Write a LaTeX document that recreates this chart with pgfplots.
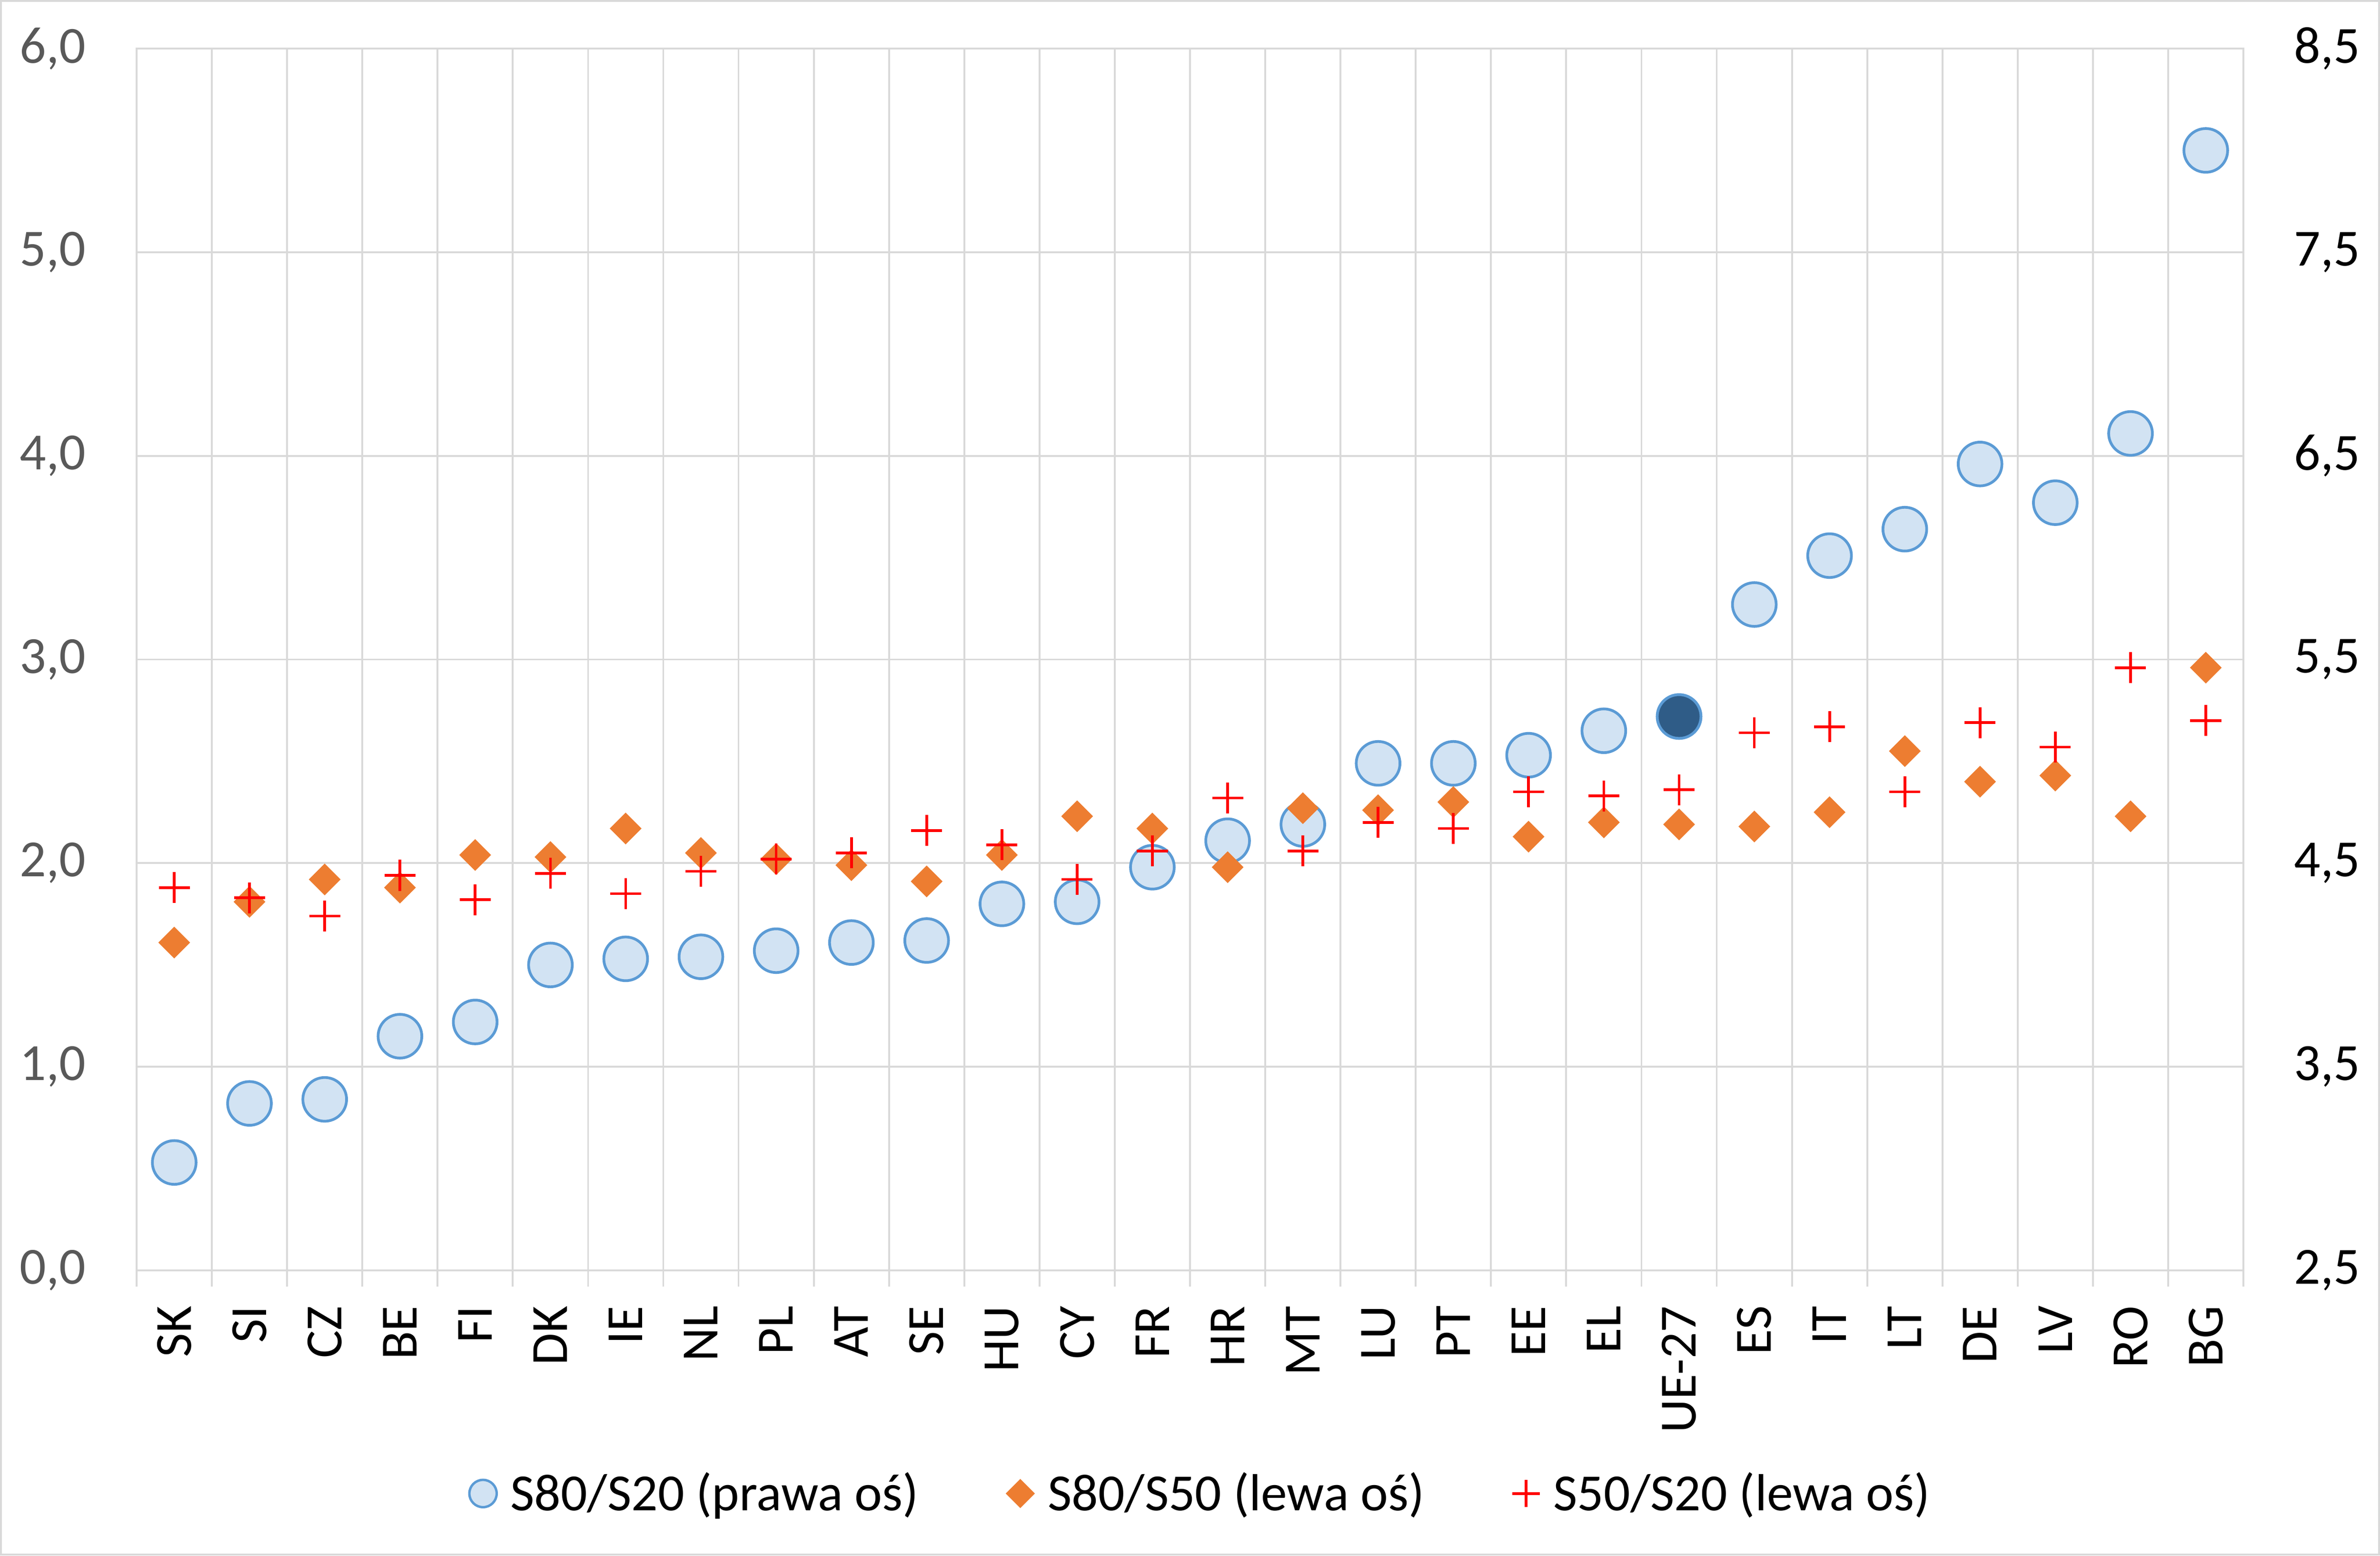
\documentclass[border=0pt]{standalone}
\usepackage{pgfplots}
\pgfplotsset{compat=1.18}
\usepackage{pgfplotstable}
\usepackage{fontspec}
\setmainfont{Carlito}

\definecolor{gridgray}{HTML}{D9D9D9}
\definecolor{ticklabelgray}{HTML}{595959}
\definecolor{circfill}{HTML}{D2E3F3}
\definecolor{circline}{HTML}{5B9BD5}
\definecolor{eublue}{HTML}{2F5C87}
\definecolor{diamondorange}{HTML}{ED7D31}
\definecolor{plusred}{HTML}{FF0000}

\newcommand{\chartfont}{\fontsize{17.2bp}{21bp}\selectfont}

% x = position of the country, s8020 on the right axis, the other two on the left one
\pgfplotstableread{
x  s8020 s8050 s5020
0  3.03  1.61  1.88
1  3.32  1.81  1.83
2  3.34  1.92  1.74
3  3.65  1.88  1.94
4  3.72  2.04  1.82
5  4.00  2.03  1.95
6  4.03  2.17  1.85
7  4.04  2.05  1.96
8  4.07  2.02  2.02
9  4.11  1.99  2.05
10 4.12  1.91  2.16
11 4.30  2.04  2.09
12 4.31  2.23  1.92
13 4.48  2.17  2.06
14 4.61  1.98  2.32
15 4.69  2.27  2.06
16 4.99  2.26  2.20
17 4.99  2.30  2.17
18 5.03  2.13  2.35
19 5.15  2.20  2.33
20 5.22  2.19  2.36
21 5.77  2.18  2.64
22 6.01  2.25  2.67
23 6.14  2.55  2.35
24 6.46  2.40  2.69
25 6.27  2.43  2.57
26 6.61  2.23  2.96
27 8.00  2.96  2.70
}\data

\pgfplotsset{
  base/.style={
    at={(45bp,94bp)}, anchor=south west,
    width=694bp, height=402.5bp, scale only axis,
    xmin=-0.5, xmax=27.5,
    tick label style={font=\chartfont},
    /pgf/number format/use comma,
    /pgf/number format/fixed,
    /pgf/number format/fixed zerofill,
    /pgf/number format/precision=1,
    /pgf/number format/assume math mode=true,
    scaled ticks=false,
    major tick length=0pt,
  },
}

\begin{document}
\begin{tikzpicture}
\useasboundingbox (0,0) rectangle (784bp,512.5bp);
\draw[gridgray, line width=0.65bp] (0.33bp,0.33bp) rectangle (783.67bp,512.17bp);

% right axis: S80/S20, drawn first so that it carries the grid
\begin{axis}[base,
  ymin=2.5, ymax=8.5, ytick={2.5,3.5,...,8.5},
  ytick pos=right, yticklabel pos=right,
  yticklabel style={anchor=west, inner sep=0pt, xshift=16.5bp, text=black},
  xtick={0,...,27},
  xticklabels={SK,SI,CZ,BE,FI,DK,IE,NL,PL,AT,SE,HU,CY,FR,HR,MT,LU,PT,EE,EL,UE-27,ES,IT,LT,DE,LV,RO,BG},
  xticklabel style={yshift=-11.5bp, rotate=90, anchor=east, inner sep=0pt, text=black},
  xtick pos=left,
  minor xtick={-0.5,0.5,...,27.5},
  xminorgrids, ymajorgrids,
  grid style={gridgray, line width=0.6bp},
  tick align=outside, minor tick length=5.3bp,
  minor tick style={gridgray, line width=0.6bp},
  axis line style={gridgray, line width=0.6bp},
]
\addplot[only marks, mark=*, mark size=7.2bp,
  mark options={fill=circfill, draw=circline, line width=0.9bp}]
  table[x=x, y=s8020] \data;
\addplot[only marks, mark=*, mark size=7.2bp,
  mark options={fill=eublue, draw=circline, line width=0.9bp}]
  coordinates {(20,5.22)};
\end{axis}

% left axis: S80/S50 and S50/S20
\begin{axis}[base,
  ymin=0, ymax=6, ytick={0,...,6},
  ytick pos=left, yticklabel pos=left,
  yticklabel style={anchor=east, inner sep=0pt, xshift=-16.5bp, text=ticklabelgray},
  xtick=\empty,
  axis line style={draw=none},
  legend style={at={(0.5057,-0.1826)}, anchor=center, draw=none, fill=none,
    font=\chartfont, nodes={inner sep=1.5bp},
    /tikz/every odd column/.append style={column sep=3bp},
    /tikz/every even column/.append style={column sep=27.5bp}},
  legend columns=3, legend cell align=left,
]
\addlegendimage{only marks, mark=*, mark size=4.5bp,
  mark options={fill=circfill, draw=circline, line width=0.8bp}}
\addlegendentry{S80/S20 (prawa oś)}
\addlegendimage{only marks, mark=square*, mark size=3.2bp,
  mark options={rotate=45, fill=diamondorange, draw=diamondorange}}
\addlegendentry{S80/S50 (lewa oś)}
\addlegendimage{only marks, mark=+, mark size=4.5bp,
  mark options={draw=plusred, line width=0.9bp}}
\addlegendentry{S50/S20 (lewa oś)}

\addplot[forget plot, only marks, mark=square*, mark size=3.55bp,
  mark options={rotate=45, fill=diamondorange, draw=diamondorange, line width=0.3bp}]
  table[x=x, y=s8050] \data;
\addplot[forget plot, only marks, mark=+, mark size=5.1bp,
  mark options={draw=plusred, line width=0.9bp}]
  table[x=x, y=s5020] \data;
\end{axis}
\end{tikzpicture}
\end{document}
